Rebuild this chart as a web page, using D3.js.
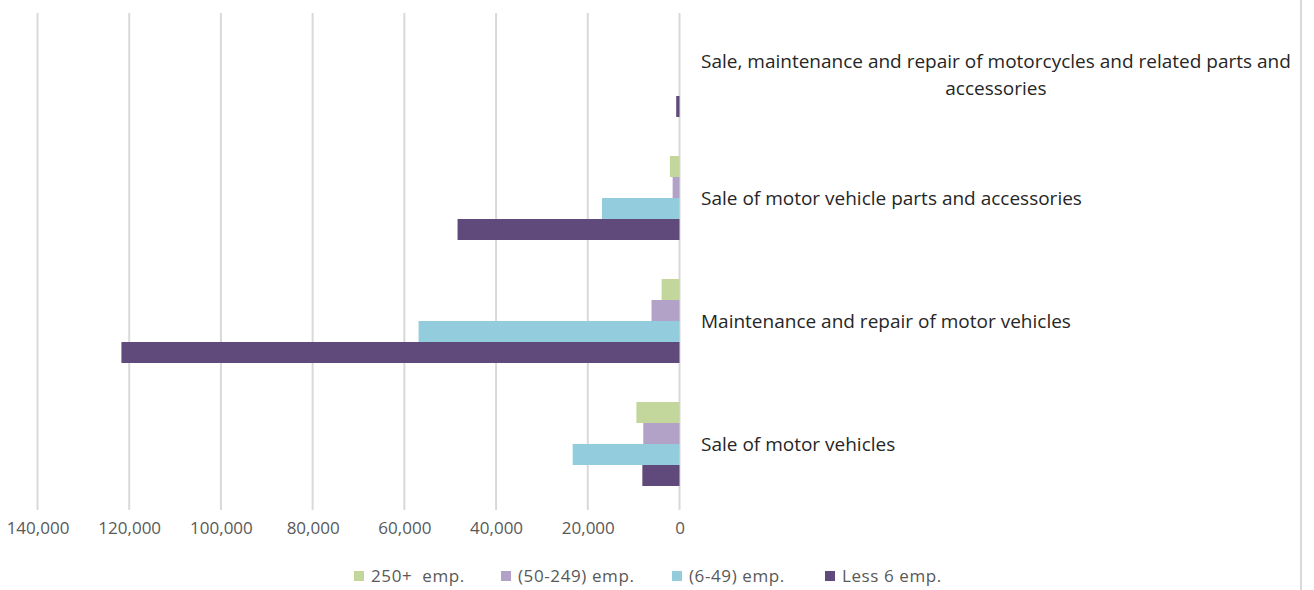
<!DOCTYPE html>
<html>
<head>
<meta charset="utf-8">
<script src="https://cdn.jsdelivr.net/npm/d3@7"></script>
<style>
	body { margin: 0; background: #fff; }
	svg { display: block; font-family: "Open Sans", sans-serif; }
</style>
</head>
<body>
<svg id="chart" width="1314" height="590"></svg>
<script>
// categories, top to bottom as drawn
const categories = [
	"Sale, maintenance and repair of motorcycles and related parts and|accessories",
	"Sale of motor vehicle parts and accessories",
	"Maintenance and repair of motor vehicles",
	"Sale of motor vehicles"
];
const seriesNames = ["250+  emp.", "(50-249) emp.", "(6-49) emp.", "Less 6 emp."];
const seriesColors = ["#c3d69b", "#b3a2c7", "#93cddd", "#604a7b"];

// values per series, same order as categories
const emp250 = [0, 2100, 3900, 9400];
const emp50_249 = [0, 1500, 6100, 7900];
const emp6_49 = [0, 16900, 56900, 23300];
const less6 = [720, 48400, 121700, 8100];

const xTicks = [0, 20000, 40000, 60000, 80000, 100000, 120000, 140000];

const series = [emp250, emp50_249, emp6_49, less6];

const svg = d3.select("#chart");

// value axis runs right to left
const x = d3.scaleLinear()
	.domain([0, 140000])
	.range([679.5, 37.5]);

const y = d3.scaleBand()
	.domain(categories)
	.range([13.5, 505.5])
	.paddingInner(39 / 123)
	.paddingOuter(39 / 123 / 2);

const ySub = d3.scaleBand()
	.domain(d3.range(series.length))
	.range([0, y.bandwidth()]);

// gridlines
svg.append("g")
	.selectAll("line")
	.data(xTicks)
	.join("line")
	.attr("x1", d => x(d))
	.attr("x2", d => x(d))
	.attr("y1", 13)
	.attr("y2", 510)
	.attr("stroke", "#d9d9d9")
	.attr("stroke-width", 2);

// right frame line
svg.append("line")
	.attr("x1", 1301).attr("x2", 1301)
	.attr("y1", 0).attr("y2", 590)
	.attr("stroke", "#d9d9d9")
	.attr("stroke-width", 2);

// bars
series.forEach((vals, si) => {
	svg.append("g")
		.selectAll("rect")
		.data(vals)
		.join("rect")
		.attr("x", d => x(d))
		.attr("width", d => x(0) - x(d))
		.attr("y", (d, i) => y(categories[i]) + ySub(si))
		.attr("height", ySub.bandwidth())
		.attr("fill", seriesColors[si]);
});

// tick labels
const axis = d3.axisBottom(x)
	.tickValues(xTicks)
	.tickFormat(d3.format(","))
	.tickSize(0)
	.tickPadding(0);

const axisG = svg.append("g")
	.attr("transform", "translate(0,522)")
	.call(axis);
axisG.select(".domain").remove();
axisG.selectAll("text")
	.attr("dy", "0.71em")
	.attr("fill", "#595959")
	.style("font-size", "17px")
	.style("font-family", "Open Sans, sans-serif");

// category labels
categories.forEach((c) => {
	const lines = c.split("|");
	const g = svg.append("g");
	const cy = y(c) + y.bandwidth() / 2;
	const lh = 27;
	const texts = lines.map((l, i) => g.append("text")
		.attr("y", cy + (i - (lines.length - 1) / 2) * lh)
		.attr("dy", "0.35em")
		.attr("fill", "#262626")
		.style("font-size", "19px")
		.text(l));
	const maxW = d3.max(texts, t => t.node().getComputedTextLength());
	texts.forEach(t => t.attr("x", 701 + maxW / 2).attr("text-anchor", "middle"));
});

// legend
const legendX = [354, 501, 672, 825];
seriesNames.forEach((n, i) => {
	svg.append("rect")
		.attr("x", legendX[i])
		.attr("y", 571)
		.attr("width", 10)
		.attr("height", 10)
		.attr("fill", seriesColors[i]);
	svg.append("text")
		.attr("x", legendX[i] + 17)
		.attr("y", 576)
		.attr("dy", "0.35em")
		.attr("fill", "#595959")
		.style("font-size", "17px")
		.style("letter-spacing", "0.6px")
		.style("white-space", "pre")
		.text(n);
});
</script>
</body>
</html>
